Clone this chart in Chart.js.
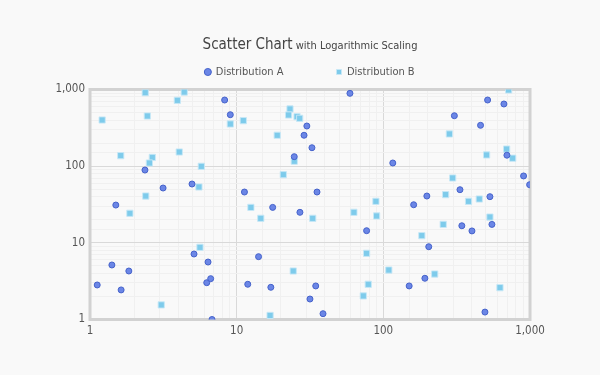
<!DOCTYPE html>
<html>
<head>
<meta charset="utf-8">
<script src="https://cdn.jsdelivr.net/npm/chart.js@4"></script>
<style>
  html, body { margin: 0; padding: 0; background: #f9f9f9; }
  canvas { display: block; }
</style>
</head>
<body>
<canvas id="chart" width="600" height="375"></canvas>
<script>
// data
const distAX = [1.12, 1.41, 1.5, 1.63, 1.84, 2.37, 3.15, 4.96, 5.12, 6.38, 6.25, 6.65, 6.79, 8.28, 9.05,
  59.2, 30.1, 28.8, 32.6, 24.7, 11.3, 35.3, 17.6, 27, 14.1, 11.9, 17.1, 34.6, 31.6, 38.8, 76.9,
  116, 305, 514, 664, 460, 696, 904, 994, 333, 198, 533, 161, 343, 402, 550, 204, 192, 150, 493];
const distAY = [2.82, 5.14, 31.1, 2.43, 4.29, 89, 51.9, 58.5, 7.15, 5.62, 3.02, 3.41, 1.0, 729, 469,
  891, 334, 253, 174, 133, 46, 46, 29, 25, 6.6, 2.88, 2.63, 2.74, 1.85, 1.19, 14.4,
  110, 455, 729, 647, 341, 139, 74.5, 57.3, 49.3, 40.8, 40, 31.4, 16.7, 14.3, 17.4, 8.9, 3.45, 2.74, 1.25];

const distBX = [1.21, 2.38, 4.39, 3.94, 2.46, 1.62, 4.06, 2.66, 2.54, 5.74, 5.53, 2.4, 1.87, 5.62, 3.06,
  23.1, 22.6, 25.8, 26.9, 9.05, 11.1, 18.9, 24.7, 20.8, 12.5, 14.6, 33, 63, 24.3, 16.9, 76.9, 73, 78.9,
  90, 89, 183, 256, 109, 224, 624, 533, 381, 451, 297, 266, 282, 715, 693, 762, 506];
const distBY = [400, 908, 927, 723, 451, 137, 153, 130, 110, 99.6, 53.5, 40.8, 24.3, 8.74, 1.55,
  557, 465, 442, 421, 355, 392, 253, 116, 77.4, 29, 20.9, 20.9, 25, 4.29, 1.13, 7.3, 2.03, 2.88,
  22.4, 34.8, 12.4, 17.4, 4.42, 3.92, 2.6, 21.7, 34.8, 37.3, 70.1, 42.5, 263, 985, 167, 127, 140];

const titleMain = 'Scatter Chart';
const titleSub = ' with Logarithmic Scaling';

const fam = "'DejaVu Sans Condensed', 'DejaVu Sans', sans-serif";
Chart.defaults.font.family = fam;
Chart.defaults.color = '#555';

function toPoints(xs, ys) {
  return xs.map((x, i) => ({ x: x, y: ys[i] }));
}

function isDecade(v) {
  const l = Math.log10(v);
  return Math.abs(l - Math.round(l)) < 1e-9;
}

// title with the smaller subtitle on the same line
const titlePlugin = {
  id: 'twoPartTitle',
  afterDraw(chart) {
    const ctx = chart.ctx;
    const area = chart.chartArea;
    const cx = (area.left + area.right) / 2;
    ctx.save();
    ctx.font = '15px ' + fam;
    const w1 = ctx.measureText(titleMain).width;
    ctx.font = '11px ' + fam;
    const w2 = ctx.measureText(titleSub).width;
    const x = cx - (w1 + w2) / 2;
    ctx.fillStyle = '#444';
    ctx.textBaseline = 'alphabetic';
    ctx.textAlign = 'left';
    ctx.font = '15px ' + fam;
    ctx.fillText(titleMain, x, 49);
    ctx.font = '11px ' + fam;
    ctx.fillText(titleSub, x + w1, 49);
    ctx.restore();
  }
};

// thick frame round the plot
const framePlugin = {
  id: 'frame',
  beforeDatasetsDraw(chart) {
    const ctx = chart.ctx;
    const a = chart.chartArea;
    ctx.save();
    ctx.strokeStyle = '#d2d2d2';
    ctx.lineWidth = 3;
    ctx.strokeRect(a.left, a.top, a.right - a.left, a.bottom - a.top);
    ctx.restore();
  }
};

const gridColor = (c) => (c.tick && isDecade(c.tick.value)) ? '#d9d9d9' : '#f0f0f0';

new Chart(document.getElementById('chart'), {
  type: 'scatter',
  data: {
    datasets: [
      {
        label: 'Distribution A',
        data: toPoints(distAX, distAY),
        pointStyle: 'circle',
        pointRadius: 3,
        backgroundColor: '#6b86e6',
        borderColor: '#4562ca',
        borderWidth: 1
      },
      {
        label: 'Distribution B',
        data: toPoints(distBX, distBY),
        pointStyle: 'rect',
        pointRadius: 4.4,
        backgroundColor: '#7ecbeb',
        borderColor: 'rgba(200,232,246,0.9)',
        borderWidth: 1
      }
    ]
  },
  options: {
    responsive: false,
    animation: false,
    layout: { padding: { top: 13.5, right: 70, bottom: 0, left: 0 } },
    plugins: {
      legend: {
        fullSize: false,
        labels: {
          usePointStyle: true,
          boxWidth: 5,
          boxHeight: 5,
          padding: 53,
          color: '#555',
          font: { size: 11 }
        }
      },
      subtitle: {
        display: true,
        text: '',
        weight: 500,
        padding: 0,
        font: { size: 1, lineHeight: 2 }
      },
      tooltip: { enabled: false }
    },
    scales: {
      x: {
        type: 'logarithmic',
        min: 1,
        max: 1000,
        border: { display: false },
        grid: { color: gridColor, drawTicks: false },
        ticks: {
          autoSkip: false,
          maxRotation: 0,
          padding: 5,
          font: { size: 11.5 },
          callback: (v) => isDecade(v) ? v.toLocaleString('en-US') : ''
        },
        afterFit: (s) => { s.height = 55.5; }
      },
      y: {
        type: 'logarithmic',
        min: 1,
        max: 1000,
        border: { display: false },
        grid: { color: gridColor, drawTicks: false },
        ticks: {
          autoSkip: false,
          padding: 5,
          font: { size: 11.5 },
          callback: (v) => isDecade(v) ? v.toLocaleString('en-US') : ''
        },
        afterFit: (s) => { s.width = 90; }
      }
    }
  },
  plugins: [titlePlugin, framePlugin]
});
</script>
</body>
</html>
